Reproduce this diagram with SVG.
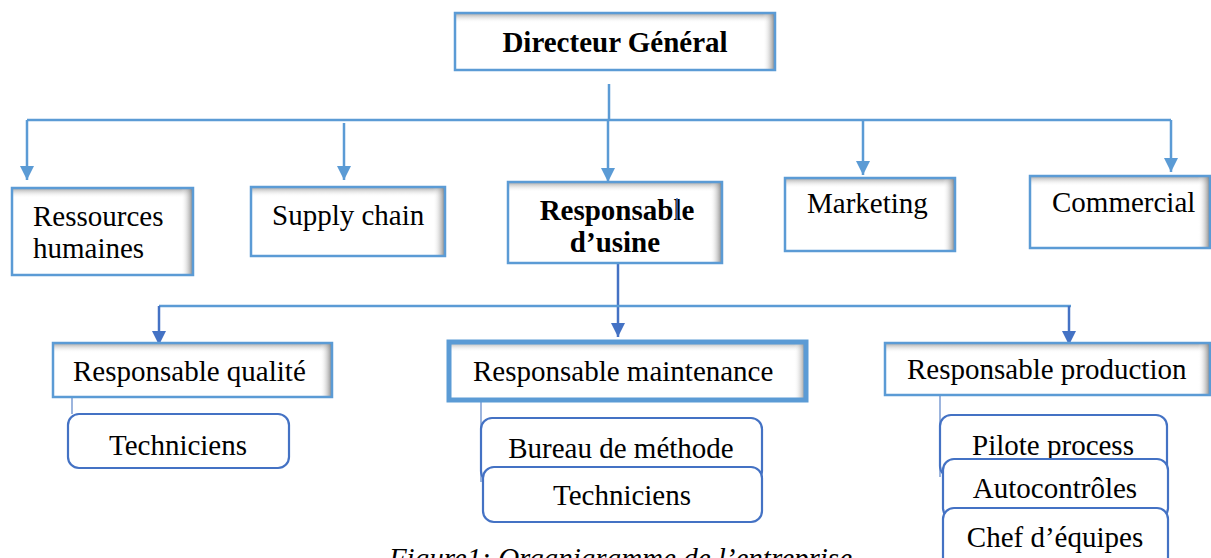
<svg xmlns="http://www.w3.org/2000/svg" width="1211" height="558" viewBox="0 0 1211 558">
<style>
.bx{fill:none;stroke:#5B9BD5;stroke-width:2.5}
.bxw{fill:#fff}
.rb{fill:#fff;stroke:#4472C4;stroke-width:2.2}
.t{font-family:"Liberation Serif","Times New Roman",serif;font-size:29px;fill:#000}
.b{font-weight:bold}
.c{text-anchor:middle}
.c1{fill:none;stroke:#5B9BD5;stroke-width:2.5}
.c2{fill:none;stroke:#4472C4;stroke-width:2.5}
.thin{fill:none;stroke:#5B84C8;stroke-width:1.2}
</style>
<defs>
<linearGradient id="gR" x1="0" y1="0" x2="1" y2="0">
<stop offset="0" stop-color="#fff" stop-opacity="0"/>
<stop offset="1" stop-color="#737373" stop-opacity="0.9"/>
</linearGradient>
<linearGradient id="gT" x1="0" y1="0" x2="0" y2="1">
<stop offset="0" stop-color="#8a8a8a" stop-opacity="0.8"/>
<stop offset="1" stop-color="#fff" stop-opacity="0"/>
</linearGradient>
<marker id="a1" viewBox="0 0 14 14" refX="14" refY="7" markerWidth="14" markerHeight="14" markerUnits="userSpaceOnUse" orient="auto">
<path d="M0,0 L14,7 L0,14 z" fill="#5B9BD5"/>
</marker>
<marker id="a2" viewBox="0 0 14 14" refX="14" refY="7" markerWidth="14" markerHeight="14" markerUnits="userSpaceOnUse" orient="auto">
<path d="M0,0 L14,7 L0,14 z" fill="#4472C4"/>
</marker>
</defs>
<rect width="1211" height="558" fill="#fff"/>

<g id="connectors">
<path class="c1" d="M27,120 H1171"/>
<path class="c1" d="M609,84 V120"/>
<path class="c1" d="M27,120 V180" marker-end="url(#a1)"/>
<path class="c1" d="M344,123 V180" marker-end="url(#a1)"/>
<path class="c1" d="M608,120 V182" marker-end="url(#a1)"/>
<path class="c1" d="M863,120 V175" marker-end="url(#a1)"/>
<path class="c1" d="M1171,120 V172" marker-end="url(#a1)"/>
<path class="c2" d="M618,263 V337" marker-end="url(#a2)"/>
<path class="c1" d="M159,306 H1071"/>
<path class="c2" d="M159,306 V345" marker-end="url(#a2)"/>
<path class="c2" d="M1069,306 V345" marker-end="url(#a2)"/>
<path class="thin" d="M72,397 V414"/>
<path class="thin" d="M481,400 V482"/>
<path class="thin" d="M940,395 V477"/>
</g>

<g id="directeur">
<rect class="bxw" x="455" y="13" width="320" height="57"/>
<rect x="455" y="13" width="320" height="10" fill="url(#gT)"/>
<rect x="763" y="13" width="12" height="57" fill="url(#gR)"/>
<rect class="bx" x="455" y="13" width="320" height="57"/>
<text class="t b c" x="615" y="52">Directeur Général</text>
</g>

<g id="rh">
<rect class="bxw" x="12" y="188" width="181" height="87"/>
<rect x="12" y="188" width="181" height="10" fill="url(#gT)"/>
<rect x="181" y="188" width="12" height="87" fill="url(#gR)"/>
<rect class="bx" x="12" y="188" width="181" height="87"/>
<text class="t" x="33" y="226">Ressources</text>
<text class="t" x="33" y="258">humaines</text>
</g>

<g id="supply">
<rect class="bxw" x="251" y="187" width="194" height="69"/>
<rect x="251" y="187" width="194" height="10" fill="url(#gT)"/>
<rect x="433" y="187" width="12" height="69" fill="url(#gR)"/>
<rect class="bx" x="251" y="187" width="194" height="69"/>
<text class="t" x="272" y="225">Supply chain</text>
</g>

<g id="usine">
<rect class="bxw" x="508" y="182" width="214" height="81"/>
<rect x="508" y="182" width="214" height="10" fill="url(#gT)"/>
<rect x="710" y="182" width="12" height="81" fill="url(#gR)"/>
<rect class="bx" x="508" y="182" width="214" height="81"/>
<text class="t b c" x="617" y="220">Responsable</text>
<text class="t b c" x="615" y="252">d’usine</text>
<path d="M677,198 V220" stroke="#4472C4" stroke-width="1.5"/>
</g>

<g id="marketing">
<rect class="bxw" x="785" y="178" width="170" height="73"/>
<rect x="785" y="178" width="170" height="10" fill="url(#gT)"/>
<rect x="943" y="178" width="12" height="73" fill="url(#gR)"/>
<rect class="bx" x="785" y="178" width="170" height="73"/>
<text class="t" x="807" y="213">Marketing</text>
</g>

<g id="commercial">
<rect class="bxw" x="1030" y="176" width="180" height="72"/>
<rect x="1030" y="176" width="180" height="10" fill="url(#gT)"/>
<rect x="1198" y="176" width="12" height="72" fill="url(#gR)"/>
<rect class="bx" x="1030" y="176" width="180" height="72"/>
<text class="t" x="1052" y="212">Commercial</text>
</g>

<g id="qualite">
<rect class="bxw" x="53" y="343" width="279" height="54"/>
<rect x="53" y="343" width="279" height="10" fill="url(#gT)"/>
<rect x="320" y="343" width="12" height="54" fill="url(#gR)"/>
<rect class="bx" x="53" y="343" width="279" height="54"/>
<text class="t" x="73" y="381">Responsable qualité</text>
</g>

<g id="tech-qualite">
<rect class="rb" x="68" y="414" width="221" height="54" rx="11"/>
<text class="t c" x="178" y="455">Techniciens</text>
</g>

<g id="maintenance">
<rect class="bxw" x="449" y="342" width="357" height="58"/>
<rect x="449" y="342" width="357" height="10" fill="url(#gT)"/>
<rect x="794" y="342" width="12" height="58" fill="url(#gR)"/>
<rect x="449" y="342" width="357" height="58" fill="none" stroke="#5B9BD5" stroke-width="5"/>
<text class="t" x="473" y="381">Responsable maintenance</text>
</g>

<g id="bureau">
<rect class="rb" x="481" y="418" width="281" height="64" rx="11"/>
<text class="t c" x="621" y="458">Bureau de méthode</text>
</g>

<g id="tech-maintenance">
<rect class="rb" x="483" y="467" width="279" height="55" rx="11"/>
<text class="t c" x="622" y="505">Techniciens</text>
</g>

<g id="production">
<rect class="bxw" x="885" y="343" width="325" height="52"/>
<rect x="885" y="343" width="325" height="10" fill="url(#gT)"/>
<rect x="1198" y="343" width="12" height="52" fill="url(#gR)"/>
<rect class="bx" x="885" y="343" width="325" height="52"/>
<text class="t" x="907" y="379">Responsable production</text>
</g>

<g id="pilote">
<rect class="rb" x="940" y="415" width="227" height="62" rx="11"/>
<text class="t c" x="1053" y="455">Pilote process</text>
</g>

<g id="autocontroles">
<rect class="rb" x="943" y="459" width="225" height="60" rx="11"/>
<text class="t c" x="1055" y="498">Autocontrôles</text>
</g>

<g id="chef">
<rect class="rb" x="943" y="508" width="225" height="70" rx="11"/>
<text class="t c" x="1055" y="547">Chef d’équipes</text>
</g>

<text class="t" x="852" y="568" font-style="italic" text-anchor="end">Figure1: Organigramme de l’entreprise</text>
</svg>
